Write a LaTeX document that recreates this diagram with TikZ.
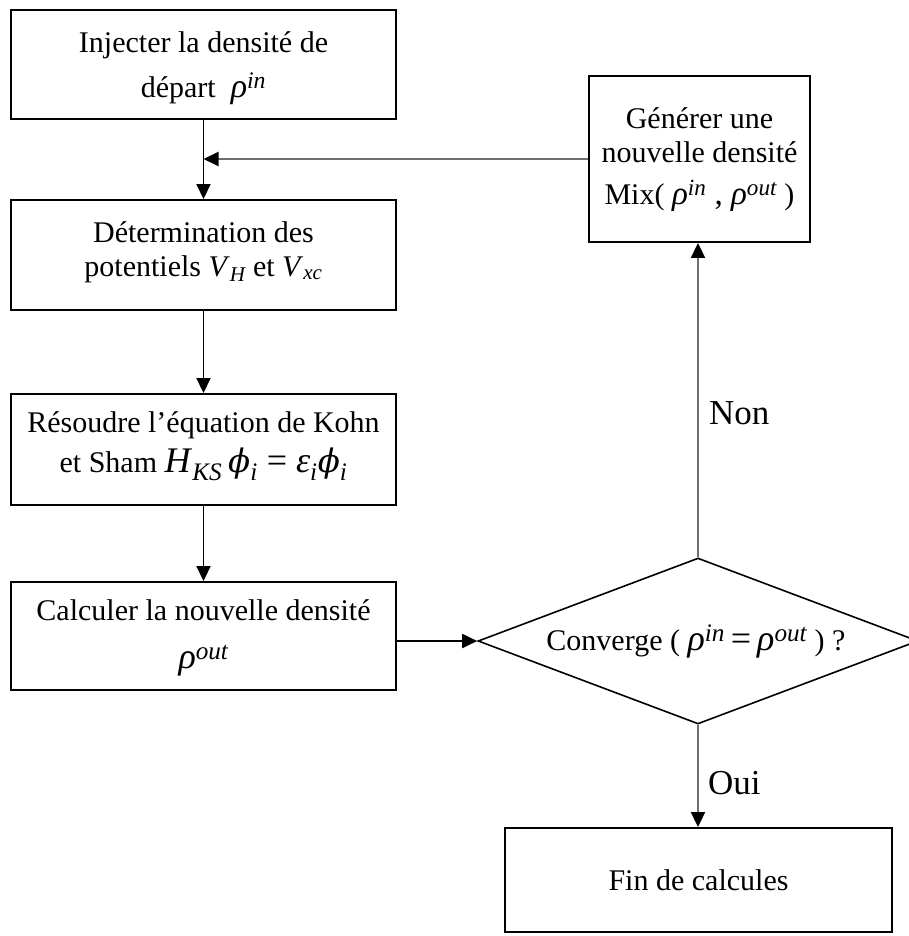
\documentclass[tikz,border=0pt]{standalone}
\usepackage{fontspec}
\setmainfont{Liberation Serif}
\newfontfamily\dvserif{DejaVu Serif}
\usetikzlibrary{shapes.geometric,arrows.meta}
\definecolor{lgray}{RGB}{110,110,110}
\newcommand{\rin}{\textit{ρ}\textsuperscript{\itshape in}}
\newcommand{\rout}{\textit{ρ}\textsuperscript{\itshape out}}
\newcommand{\isub}[2]{\textit{#1}\textsubscript{\itshape #2}}
\newcommand{\phii}{{\dvserif\itshape\scalebox{0.9}{ϕ}}\textsubscript{\itshape i}}
\tikzset{
  box/.style={draw=black, line width=1.9pt, minimum width=385pt, inner sep=0pt},
  txt/.style={inner sep=0pt, align=center},
  arr/.style={line width=1.8pt, draw=black, -{Triangle[length=15pt,width=14pt]}},
  garr/.style={line width=2pt, draw=lgray, -{Triangle[length=15pt,width=14pt,color=black]}},
  lbl/.style={inner sep=0pt, anchor=west, font=\fontsize{35}{40}\selectfont},
}
\begin{document}
\begin{tikzpicture}[x=1pt,y=-1pt]
\useasboundingbox (0,0) rectangle (909,936);
\fill[white] (0,0) rectangle (909,936);

% boxes
\node[box, minimum height=109pt] (b1) at (203.5,64.5) {};
\node[box, minimum width=221pt, minimum height=166pt] (b2) at (699.5,159) {};
\node[box, minimum height=110pt] (b3) at (203.5,255) {};
\node[box, minimum height=111pt] (b4) at (203.5,449.5) {};
\node[box, minimum height=108pt] (b5) at (203.5,636) {};
\node[box, minimum width=387pt, minimum height=104pt] (b6) at (698.5,880) {};
\node[diamond, draw=black, line width=1.6pt, inner sep=0pt, minimum width=440pt,
  minimum height=166pt, aspect=2.65] (d) at (698,641) {};

% texts
\node[txt, font=\fontsize{30}{45}\selectfont] (t1) at (203.5,68)
  {Injecter la densité de\\ départ~ {\fontsize{34}{36}\selectfont\rin}};
\node[txt, font=\fontsize{30}{34}\selectfont] (t2) at (699.5,160)
  {Générer une\\ nouvelle densité\\[8pt] Mix( {\fontsize{33}{34}\selectfont\rin\ , \rout}\ )};
\node[txt, font=\fontsize{30}{34}\selectfont] (t3) at (203.5,252)
  {Détermination des\\ potentiels \isub{V}{H} et \isub{V}{xc}};
\node[txt, font=\fontsize{30}{40}\selectfont] (t4) at (203.5,446)
  {Résoudre l’équation de Kohn\\ et Sham {\fontsize{36}{38}\selectfont\isub{H}{KS}\,\phii\ = \isub{ε}{i}\phii}};
\node[txt, font=\fontsize{30}{48}\selectfont] (t5) at (203.5,638)
  {Calculer la nouvelle densité\\ {\fontsize{36}{36}\selectfont\rout}};
\node[txt, font=\fontsize{30}{36}\selectfont] (t6) at (b6.center) {Fin de calcules};
\node[txt, font=\fontsize{30}{36}\selectfont] (dt) at (696,641)
  {Converge ( {\fontsize{36}{36}\selectfont\rin\,=\,\rout} ) ?};

% connectors
\coordinate (m) at (b1.south |- b2.west);
\draw[arr] (b1) -- (b3);
\draw[garr] (b2.west) -- (m);
\draw[arr] (b3) -- (b4);
\draw[arr] (b4) -- (b5);
\draw[arr] (b5.east |- d.west) -- (d.west);
\draw[garr] (d.north) -- (d.north |- b2.south);
\draw[garr] (d.south) -- (d.south |- b6.north);

\node[lbl] (non) at (709,413) {Non};
\node[lbl] (oui) at (708,783) {Oui};
\end{tikzpicture}
\end{document}
